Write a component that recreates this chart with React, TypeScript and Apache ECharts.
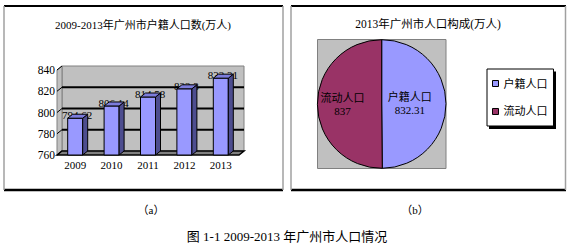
import React, { useEffect, useRef } from "react";
import * as echarts from "echarts";

const years = ["2009", "2010", "2011", "2012", "2013"];
const household = [794.62, 806.14, 814.58, 822.3, 832.31];
const householdLabels = ["794.62", "806.14", "814.58", "822.3", "832.31"];
const yTicks = [760, 780, 800, 820, 840];
const pieNames = ["户籍人口", "流动人口"];
const pieValues = [832.31, 837];
const pieColors = ["#9999FF", "#993366"];

const FONT = '"Liberation Serif", "Noto Sans CJK SC", serif';
const D = 5; // depth x
const DY = 4; // depth y
const BAR_W = 15;

export default function App() {
  const ref = useRef<HTMLDivElement>(null);
  useEffect(() => {
    if (!ref.current) return;
    const chart = echarts.init(ref.current, null, { renderer: "svg" });

    const renderFrame = (params: any, api: any) => {
      const cs = params.coordSys;
      const t = api.value(0);
      const y = api.coord([0, t])[1];
      const children: any[] = [];
      const left = cs.x;
      const top = cs.y;
      const bottom = cs.y + cs.height;
      const right = cs.x + cs.width;
      if (params.dataIndex === 0) {
        children.push({
          type: "rect",
          shape: { x: left + D, y: top - DY, width: cs.width, height: cs.height },
          style: { fill: "#C0C0C0", stroke: "#808080", lineWidth: 1 },
        });
        children.push({
          type: "polygon",
          shape: { points: [[left, top], [left + D, top - DY], [left + D, bottom - DY], [left, bottom]] },
          style: { fill: "#C0C0C0", stroke: "#808080", lineWidth: 1 },
        });
        children.push({
          type: "polygon",
          shape: { points: [[left, bottom], [left + D, bottom - DY], [right + D, bottom - DY], [right, bottom]] },
          style: { fill: "#808080", stroke: "#000", lineWidth: 1.5 },
        });
      }
      children.push({
        type: "line",
        shape: { x1: left, y1: y, x2: left + D, y2: y - DY },
        style: { stroke: "#000", lineWidth: 1 },
      });
      if (t > yTicks[0] && t < yTicks[yTicks.length - 1]) {
        children.push({
          type: "line",
          shape: { x1: left + D, y1: y - DY, x2: right + D, y2: y - DY },
          style: { stroke: "#000", lineWidth: 2 },
        });
      }
      return { type: "group", children };
    };

    const renderBar = (params: any, api: any) => {
      const i = api.value(0);
      const v = api.value(1);
      const tp = api.coord([i, v]);
      const bs = api.coord([i, yTicks[0]]);
      const x0 = tp[0] - BAR_W / 2;
      const t1 = tp[1];
      const b1 = bs[1];
      return {
        type: "group",
        children: [
          {
            type: "text",
            x: tp[0] + 2,
            y: t1 - 3,
            style: {
              text: householdLabels[params.dataIndex],
              fill: "#000",
              font: `11px ${FONT}`,
              align: "center",
              verticalAlign: "middle",
            },
          },
          {
            type: "rect",
            shape: { x: x0, y: t1, width: BAR_W, height: b1 - t1 },
            style: { fill: "#9999FF", stroke: "#000", lineWidth: 1 },
          },
          {
            type: "polygon",
            shape: { points: [[x0 + BAR_W, t1], [x0 + BAR_W + D, t1 - DY], [x0 + BAR_W + D, b1 - DY], [x0 + BAR_W, b1]] },
            style: { fill: "#4D4D8F", stroke: "#000", lineWidth: 1 },
          },
          {
            type: "polygon",
            shape: { points: [[x0, t1], [x0 + D, t1 - DY], [x0 + BAR_W + D, t1 - DY], [x0 + BAR_W, t1]] },
            style: { fill: "#7C7CDC", stroke: "#000", lineWidth: 1 },
          },
        ],
      };
    };

    const frameLine = (x1: number, y1: number, x2: number, y2: number, color: string, w: number) => ({
      type: "line",
      shape: { x1, y1, x2, y2 },
      style: { stroke: color, lineWidth: w },
      z: 0,
    });

    const txt = (text: string, x: number, y: number, size: number, font = FONT) => ({
      type: "text",
      x,
      y,
      style: { text, fill: "#000", font: `${size}px ${font}`, align: "center", verticalAlign: "middle" },
      z: 5,
    });

    chart.setOption({
      animation: false,
      backgroundColor: "#fff",
      grid: { left: 57, top: 70, width: 182, height: 85, containLabel: false },
      xAxis: {
        type: "category",
        data: years,
        axisLine: { show: false },
        axisTick: { show: false },
        axisLabel: { color: "#000", fontSize: 11, fontFamily: FONT, margin: 4 },
      },
      yAxis: {
        type: "value",
        min: 760,
        max: 840,
        interval: 20,
        axisLine: { show: true, lineStyle: { color: "#000", width: 1 } },
        axisTick: { show: false },
        splitLine: { show: false },
        axisLabel: { color: "#000", fontSize: 11.5, fontFamily: FONT, margin: 2 },
      },
      legend: {
        data: pieNames,
        orient: "vertical",
        left: 487,
        top: 69,
        itemWidth: 6,
        itemHeight: 6,
        itemGap: 17,
        padding: [9, 6, 9, 5],
        icon: "rect",
        backgroundColor: "#fff",
        borderColor: "#000",
        borderWidth: 1,
        itemStyle: { borderColor: "#000", borderWidth: 1 },
        textStyle: { color: "#000", fontSize: 11, fontFamily: FONT, padding: [0, 0, 0, 0] },
        selectedMode: false,
        z: 4,
      },
      graphic: [
        frameLine(4, 6, 283, 6, "#000", 2),
        frameLine(4, 190, 283, 190, "#000", 2.5),
        frameLine(4, 6, 4, 190, "#A0A0A0", 1.5),
        frameLine(283, 6, 283, 190, "#A0A0A0", 1.5),
        frameLine(291, 6, 566, 6, "#000", 2),
        frameLine(291, 190, 566, 190, "#000", 2.5),
        frameLine(291, 6, 291, 190, "#A0A0A0", 1.5),
        frameLine(565.5, 6, 565.5, 190, "#A0A0A0", 1.5),
        {
          type: "rect",
          shape: { x: 317.5, y: 39.5, width: 128.5, height: 129 },
          style: { fill: "#C0C0C0", stroke: "#808080", lineWidth: 1 },
          z: 0,
        },
        {
          type: "rect",
          shape: { x: 489, y: 71.5, width: 67, height: 57.5 },
          style: { fill: "#000" },
          z: 0,
        },
        txt("2009-2013年广州市户籍人口数(万人)", 143, 25, 11),
        txt("2013年广州市人口构成(万人)", 428, 24, 11.5),
        txt("（a）", 151, 210, 11),
        txt("（b）", 415, 210, 11),
        txt("图 1-1 2009-2013 年广州市人口情况", 287, 236, 13),
      ],
      series: [
        {
          type: "custom",
          renderItem: renderFrame,
          data: yTicks.map((t) => [t]),
          encode: { y: 0 },
          z: 1,
          silent: true,
        },
        {
          type: "custom",
          renderItem: renderBar,
          data: years.map((_, i) => [i, household[i]]),
          encode: { x: 0, y: 1 },
          z: 2,
          silent: true,
        },
        {
          type: "pie",
          center: [381.7, 104],
          radius: 64.3,
          startAngle: 90,
          clockwise: true,
          silent: true,
          z: 3,
          label: {
            show: true,
            position: "inside",
            color: "#000",
            fontSize: 11,
            fontFamily: FONT,
            lineHeight: 13,
            formatter: "{b}\n{c}",
          },
          labelLayout: (p: any) => ({ dx: p.dataIndex === 0 ? -7 : -4 }),
          labelLine: { show: false },
          itemStyle: { borderColor: "#000", borderWidth: 1 },
          emphasis: { disabled: true },
          data: pieNames.map((n, i) => ({ name: n, value: pieValues[i], itemStyle: { color: pieColors[i] } })),
        },
      ],
    });
    return () => chart.dispose();
  }, []);
  return (
    <div
      ref={ref}
      style={{ position: "absolute", left: 0, top: 0, width: 573, height: 246 }}
    />
  );
}
